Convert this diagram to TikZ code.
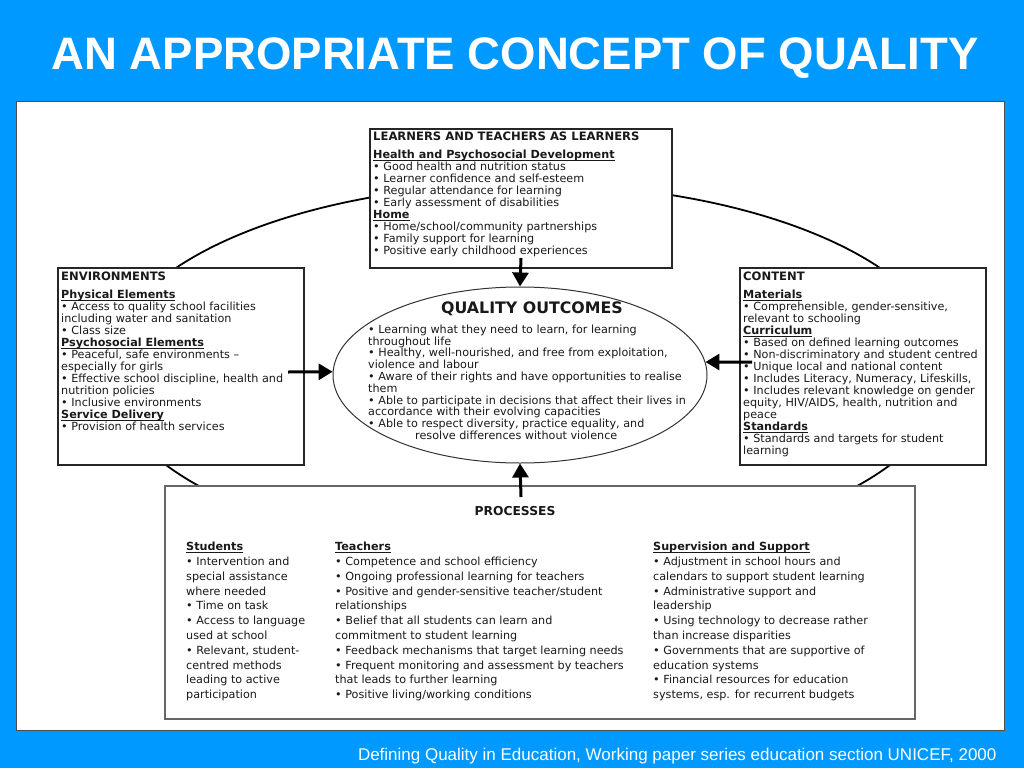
\documentclass[tikz,border=0pt]{standalone}
\usepackage{fontspec}
\setmainfont{DejaVu Sans}
\newfontfamily\titrefont{Liberation Sans}
\usepackage{tikz}
\usetikzlibrary{arrows.meta}
\usetikzlibrary{shapes.geometric}
\definecolor{fondbleu}{RGB}{0,153,255}
\newcommand{\soustitre}[1]{\setbox0\hbox{\bfseries #1}\rlap{\rule[-1.7pt]{\wd0}{0.7pt}}\box0}

\begin{document}
\begin{tikzpicture}[x=1pt,y=-1pt]
	\tikzstyle{boite}=[rectangle,draw=black!85,line width=1.4pt,fill=white,inner sep=0pt]
	\tikzstyle{texte}=[anchor=north west,align=left,inner sep=0pt,text=black!90,font={\fontsize{11.2}{12}\selectfont\lineskiplimit=-20pt}]
	\tikzstyle{fleche}=[line width=3pt,-{Triangle[length=14pt,width=16pt]}]
	\useasboundingbox (0,0) rectangle (1024,768);
	\fill[fondbleu] (0,0) rectangle (1024,768);
	\node[anchor=base,text=white,font=\titrefont\bfseries\fontsize{45.5}{50}\selectfont] (titre) at (515,70) {AN APPROPRIATE CONCEPT OF QUALITY};
	\node[rectangle,draw=black!70,line width=0.8pt,fill=white,minimum width=988pt,minimum height=629pt,inner sep=0pt] (cadre) at (510,415.5) {};
	\draw[line width=1.8pt] (528,370) ellipse (421pt and 186pt);
	\node[boite,minimum width=302pt,minimum height=139pt] (apprenants) at (521,198.5) {};
	\node[boite,minimum width=246pt,minimum height=197pt] (environnement) at (181,366.5) {};
	\node[boite,minimum width=246pt,minimum height=197pt] (contenu) at (863,366.5) {};
	\node[boite,draw=black!60,minimum width=750pt,minimum height=233pt] (processus) at (540,602.5) {};
	\node[ellipse,draw=black!80,line width=1pt,fill=white,minimum width=374pt,minimum height=176pt,inner sep=0pt] (resultats) at (520,375) {};
	\node[texte] (apprenantstexte) at (373,131.5) {\textbf{\fontsize{11.6}{12}\selectfont LEARNERS AND TEACHERS AS LEARNERS}\\[6.5pt]
		\soustitre{Health and Psychosocial Development}\\
		• Good health and nutrition status\\
		• Learner confidence and self-esteem\\
		• Regular attendance for learning\\
		• Early assessment of disabilities\\
		\soustitre{Home}\\
		• Home/school/community partnerships\\
		• Family support for learning\\
		• Positive early childhood experiences};
	\node[texte] (environnementtexte) at (61,271.5) {\textbf{\fontsize{11.6}{12}\selectfont ENVIRONMENTS}\\[6.5pt]
		\soustitre{Physical Elements}\\
		• Access to quality school facilities\\
		including water and sanitation\\
		• Class size\\
		\soustitre{Psychosocial Elements}\\
		• Peaceful, safe environments –\\
		especially for girls\\
		• Effective school discipline, health and\\
		nutrition policies\\
		• Inclusive environments\\
		\soustitre{Service Delivery}\\
		• Provision of health services};
	\node[texte] (contenutexte) at (743,271.5) {\textbf{\fontsize{11.6}{12}\selectfont CONTENT}\\[6.5pt]
		\soustitre{Materials}\\
		• Comprehensible, gender-sensitive,\\
		relevant to schooling\\
		\soustitre{Curriculum}\\
		• Based on defined learning outcomes\\
		• Non-discriminatory and student centred\\
		• Unique local and national content\\
		• Includes Literacy, Numeracy, Lifeskills,\\
		• Includes relevant knowledge on gender\\
		equity, HIV/AIDS, health, nutrition and\\
		peace\\
		\soustitre{Standards}\\
		• Standards and targets for student\\
		learning};
	\node[anchor=base,text=black!90,font=\bfseries\fontsize{15.8}{18}\selectfont] (resultatstitre) at (532,313.5) {QUALITY OUTCOMES};
	\node[texte,font={\fontsize{11.2}{11.8}\selectfont\lineskiplimit=-20pt}] (resultatstexte) at (368,324.5) {• Learning what they need to learn, for learning\\
		throughout life\\
		• Healthy, well-nourished, and free from exploitation,\\
		violence and labour\\
		• Aware of their rights and have opportunities to realise\\
		them\\
		• Able to participate in decisions that affect their lives in\\
		accordance with their evolving capacities\\
		• Able to respect diversity, practice equality, and\\
		\hspace*{47pt}resolve differences without violence};
	\node[anchor=base,text=black!90,font=\bfseries\fontsize{12.3}{14}\selectfont] (processustitre) at (515,515.5) {PROCESSES};
	\node[texte,font={\fontsize{11.2}{14.8}\selectfont\lineskiplimit=-20pt}] (eleves) at (186,542) {\soustitre{Students}\\
		• Intervention and\\
		special assistance\\
		where needed\\
		• Time on task\\
		• Access to language\\
		used at school\\
		• Relevant, student-\\
		centred methods\\
		leading to active\\
		participation};
	\node[texte,font={\fontsize{11.2}{14.8}\selectfont\lineskiplimit=-20pt}] (enseignants) at (335,542) {\soustitre{Teachers}\\
		• Competence and school efficiency\\
		• Ongoing professional learning for teachers\\
		• Positive and gender-sensitive teacher/student\\
		relationships\\
		• Belief that all students can learn and\\
		commitment to student learning\\
		• Feedback mechanisms that target learning needs\\
		• Frequent monitoring and assessment by teachers\\
		that leads to further learning\\
		• Positive living/working conditions};
	\node[texte,font={\fontsize{11.2}{14.8}\selectfont\lineskiplimit=-20pt}] (soutien) at (653,542) {\soustitre{Supervision and Support}\\
		• Adjustment in school hours and\\
		calendars to support student learning\\
		• Administrative support and\\
		leadership\\
		• Using technology to decrease rather\\
		than increase disparities\\
		• Governments that are supportive of\\
		education systems\\
		• Financial resources for education\\
		systems, esp. for recurrent budgets};
	\node[anchor=base east,text=white,font=\titrefont\fontsize{17}{20}\selectfont] (source) at (1000,760) {Defining Quality in Education, Working paper series education section UNICEF, 2000};
	\coordinate (departhaut) at (521,258);
	\coordinate (departbas) at (521,497);
	\coordinate (departgauche) at (288,372);
	\coordinate (departdroite) at (752,362);
	\draw[fleche] (departhaut) -- (resultats.north);
	\draw[fleche] (departbas) -- (resultats.south);
	\draw[fleche] (departgauche) -- (resultats.179);
	\draw[fleche] (departdroite) -- (resultats.4);
\end{tikzpicture}
\end{document}
